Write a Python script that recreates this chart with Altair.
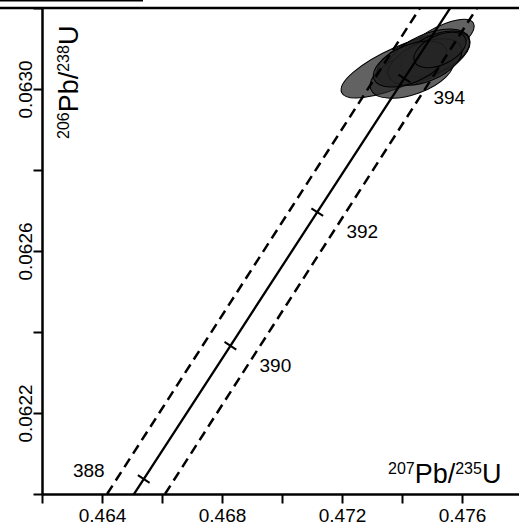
import altair as alt
import pandas as pd

FONT = "Liberation Sans"

# ---- data ----
conc_age = [386, 388, 390, 392, 394, 396]
conc_x = [0.462507, 0.465391, 0.468280, 0.471175, 0.474076, 0.476982]
conc_y = [0.061707, 0.062037, 0.062366, 0.062696, 0.063026, 0.063356]

mark_ages = [388, 390, 392, 394]

env_y = [0.0620, 0.0632]
env_left_x = [0.46417, 0.47460]
env_right_x = [0.46610, 0.47650]

ell_x = [0.473967, 0.475167, 0.474600, 0.474867, 0.474333, 0.475100, 0.474767, 0.474267, 0.475267]
ell_y = [0.0630568, 0.0631111, 0.0630716, 0.0630815, 0.0630370, 0.0630864, 0.0630667, 0.0630617, 0.0630963]
ell_len = [130, 84, 92, 90, 88, 74, 78, 78, 56]
ell_ratio = [0.30, 0.36, 0.46, 0.48, 0.46, 0.50, 0.50, 0.48, 0.52]
ell_angle = [336, 330, 338, 336, 340, 335, 338, 337, 335]

x_ticks = [0.462, 0.464, 0.466, 0.468, 0.470, 0.472, 0.474, 0.476]
x_labels = ["0.464", "0.468", "0.472", "0.476"]
y_ticks = [0.0620, 0.0622, 0.0624, 0.0626, 0.0628, 0.0630, 0.0632]
y_labels = ["0.0622", "0.0626", "0.0630"]

W, H = 477, 486

conc_df = pd.DataFrame({"age": conc_age, "x": conc_x, "y": conc_y})
mark_df = conc_df[conc_df["age"].isin(mark_ages)].copy()
mark_df["label"] = mark_df["age"].astype(str)
env_df = pd.DataFrame({
    "x": env_left_x + env_right_x,
    "y": env_y + env_y,
    "side": ["left"] * 2 + ["right"] * 2,
})
ell_df = pd.DataFrame({
    "x": ell_x, "y": ell_y,
    "sz": [l * l for l in ell_len],
    "ang": ell_angle,
    "path": [f"M-1,0A1,{r},0,1,1,1,0A1,{r},0,1,1,-1,0Z" for r in ell_ratio],
})

def arr(lst):
    return "[" + ",".join(f"'{s}'" for s in lst) + "]"

X_ENC = alt.X(
    "x:Q",
    scale=alt.Scale(domain=[0.462, 0.4779], nice=False, zero=False),
    axis=alt.Axis(
        values=x_ticks, title=None, grid=False,
        labelExpr=f"indexof({arr(x_labels)}, format(datum.value, '.3f')) >= 0 ? format(datum.value, '.3f') : ''",
        tickSize=9, tickWidth=2, tickColor="black",
        domainWidth=2.5, domainColor="black",
        labelFont=FONT, labelFontSize=19, labelColor="black", labelPadding=3,
        labelFlush=False, labelOverlap=False,
    ),
)
Y_ENC = alt.Y(
    "y:Q",
    scale=alt.Scale(domain=[0.0620, 0.0632], nice=False, zero=False),
    axis=alt.Axis(
        values=y_ticks, title=None, grid=False,
        labelExpr=f"indexof({arr(y_labels)}, format(datum.value, '.4f')) >= 0 ? format(datum.value, '.4f') : ''",
        tickSize=9, tickWidth=2, tickColor="black",
        domainWidth=2.5, domainColor="black",
        labelFont=FONT, labelFontSize=19, labelColor="black", labelPadding=1.5,
        labelAngle=270, labelAlign="center", labelBaseline="alphabetic",
        labelFlush=False, labelOverlap=False,
    ),
)

ellipses = alt.Chart(ell_df).mark_point(
    filled=True, fill="#262626", fillOpacity=0.72, stroke="black",
    strokeWidth=1, opacity=1,
).encode(
    x=X_ENC, y=Y_ENC,
    shape=alt.Shape("path:N", scale=None),
    size=alt.Size("sz:Q", scale=None),
    angle=alt.Angle("ang:Q", scale=None),
)

envelope = alt.Chart(env_df).mark_line(
    color="black", strokeWidth=2.5, strokeDash=[10, 6], clip=True
).encode(x=X_ENC, y=Y_ENC, detail="side:N")

concordia = alt.Chart(conc_df).mark_line(
    color="black", strokeWidth=2.3, clip=True
).encode(x=X_ENC, y=Y_ENC, order="age:Q")

ticks = alt.Chart(mark_df).mark_point(
    shape="stroke", size=196, angle=33, strokeWidth=2, color="black",
    opacity=1, filled=False,
).encode(x=X_ENC, y=Y_ENC)

lab_main = alt.Chart(mark_df[mark_df["age"] != 388]).mark_text(
    font=FONT, fontSize=19, color="black", dx=45, dy=20
).encode(x=X_ENC, y=Y_ENC, text="label:N")
lab_388 = alt.Chart(mark_df[mark_df["age"] == 388]).mark_text(
    font=FONT, fontSize=19, color="black", dx=-55, dy=-8
).encode(x=X_ENC, y=Y_ENC, text="label:N")

# frame lines at the top
top_rule = alt.Chart(pd.DataFrame({"a": [0]})).mark_rule(
    color="black", strokeWidth=2.5
).encode(x=alt.value(-42), x2=alt.value(W), y=alt.value(0))
top_short = alt.Chart(pd.DataFrame({"a": [0]})).mark_rule(
    color="black", strokeWidth=2
).encode(x=alt.value(-42), x2=alt.value(101), y=alt.value(-7.5))

# axis titles with superscripts, built from pieces
CW = {"0": 0.556, "1": 0.556, "2": 0.556, "3": 0.556, "5": 0.556, "6": 0.556,
      "7": 0.556, "8": 0.556, "P": 0.667, "b": 0.556, "/": 0.278, "U": 0.722}
MAIN, SUP, RAISE = 27, 16, 9

def title_pieces(pieces, start, base, vertical):
    charts = []
    pos = start
    for txt, sup in pieces:
        fs = SUP if sup else MAIN
        w = sum(CW[c] for c in txt) * fs
        if vertical:
            px, py = (base - RAISE if sup else base), pos
            pos -= w
        else:
            px, py = pos, (base - RAISE if sup else base)
            pos += w
        charts.append(
            alt.Chart(pd.DataFrame({"t": [txt]})).mark_text(
                align="left", baseline="alphabetic", font=FONT, fontSize=fs,
                angle=270 if vertical else 0, color="black",
            ).encode(x=alt.value(px), y=alt.value(py), text="t:N")
        )
    return charts

x_title = title_pieces([("207", True), ("Pb/", False), ("235", True), ("U", False)],
                       start=346, base=475, vertical=False)
y_title = title_pieces([("206", True), ("Pb/", False), ("238", True), ("U", False)],
                       start=131, base=36, vertical=True)

chart = alt.layer(
    ellipses, envelope, concordia, ticks, lab_main, lab_388,
    top_rule, top_short, *x_title, *y_title,
).properties(
    width=W, height=H,
    padding={"left": 42, "top": 8, "right": 0, "bottom": 33},
    autosize=alt.AutoSizeParams(type="none"),
    background="white",
).configure_view(stroke=None)

chart.save("out.html", embed_options={"renderer": "svg", "actions": False})
